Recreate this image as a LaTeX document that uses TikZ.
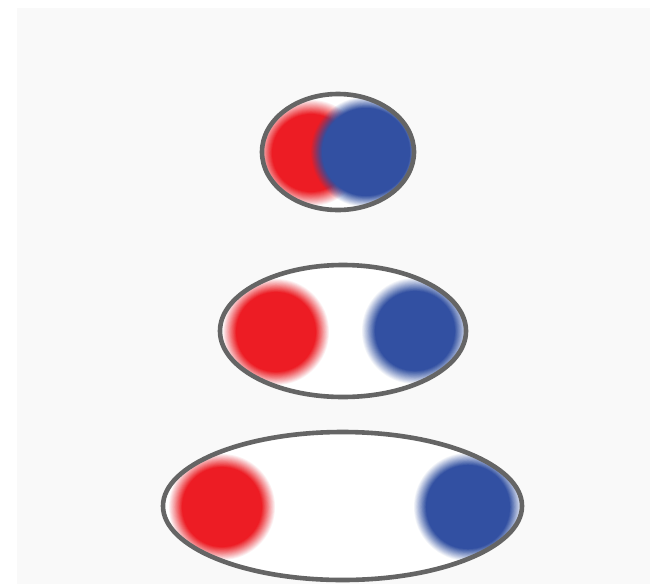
\documentclass[tikz,border=0pt]{standalone}
\definecolor{ringgray}{HTML}{656565}
\definecolor{blobred}{HTML}{ED1C24}
\definecolor{blobblue}{HTML}{3250A2}
\definecolor{bggray}{HTML}{F9F9F9}
\tikzset{
  ringfill/.style={fill=white},
  ringline/.style={draw=ringgray, line width=4.6pt}
}
% #1 colour, #2 centre, #3 outer radius, #4 solid radius
\newcommand\fuzzydisk[4]{%
  \foreach \i in {1,...,16}{%
    \pgfmathsetmacro\op{1/(17-\i)}%
    \pgfmathsetmacro\rr{#3-(#3-#4)*(\i-1)/15}%
    \fill[#1, opacity=\op] #2 circle [radius=\rr pt];
  }%
}
\begin{document}
\begin{tikzpicture}[x=1pt,y=-1pt]
\useasboundingbox (0,0) rectangle (650,584);
\fill[white] (0,0) rectangle (650,584);
\fill[bggray] (17,8) rectangle (650,584);
% ring 1
\fill[ringfill] (338,152) ellipse [x radius=76pt, y radius=58pt];
\begin{scope}
\clip (338,152) ellipse [x radius=76pt, y radius=58pt];
\fuzzydisk{blobred}{(311,153)}{53}{39}
\fuzzydisk{blobblue}{(366,152)}{55}{44}
\end{scope}
\draw[ringline] (338,152) ellipse [x radius=76pt, y radius=58pt];
% ring 2
\fill[ringfill] (343,331) ellipse [x radius=123pt, y radius=66pt];
\begin{scope}
\clip (343,331) ellipse [x radius=123pt, y radius=66pt];
\fuzzydisk{blobred}{(276,332)}{53}{40}
\fuzzydisk{blobblue}{(415,331)}{53}{40}
\end{scope}
\draw[ringline] (343,331) ellipse [x radius=123pt, y radius=66pt];
% ring 3
\fill[ringfill] (342.5,506) ellipse [x radius=179.5pt, y radius=74pt];
\begin{scope}
\clip (342.5,506) ellipse [x radius=179.5pt, y radius=74pt];
\fuzzydisk{blobred}{(222,507)}{53}{40}
\fuzzydisk{blobblue}{(468,507)}{54}{42}
\end{scope}
\draw[ringline] (342.5,506) ellipse [x radius=179.5pt, y radius=74pt];
\end{tikzpicture}
\end{document}
